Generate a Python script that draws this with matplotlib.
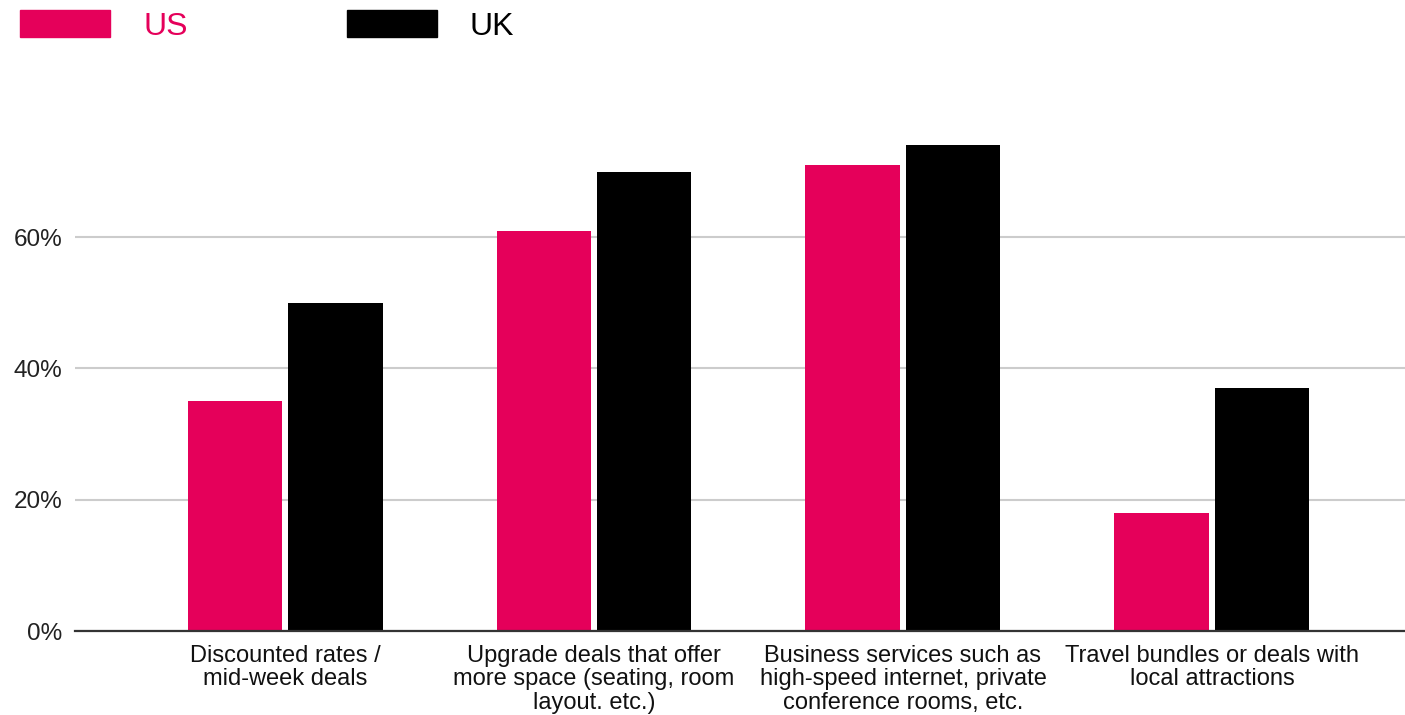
import numpy as np
import matplotlib.pyplot as plt
from matplotlib.patches import Rectangle

categories = [
    "Discounted rates /\nmid-week deals",
    "Upgrade deals that offer\nmore space (seating, room\nlayout. etc.)",
    "Business services such as\nhigh-speed internet, private\nconference rooms, etc.",
    "Travel bundles or deals with\nlocal attractions",
]
us_values = [0.35, 0.61, 0.71, 0.18]
uk_values = [0.50, 0.70, 0.74, 0.37]
y_ticks = [0.0, 0.2, 0.4, 0.6]
y_tick_labels = ["0%", "20%", "40%", "60%"]

PINK = "#E5005A"
BLACK = "#000000"

plt.rcParams["font.family"] = ["Liberation Sans", "DejaVu Sans"]

fig = plt.figure(figsize=(14.05, 7.15), dpi=100)
ax = fig.add_axes([75 / 1405, 84 / 715, 1 - 75 / 1405, (631 - 119) / 715])

x = np.arange(len(categories))
width = 0.307
offset = 0.162
ax.bar(x - offset, us_values, width, color=PINK, zorder=3)
ax.bar(x + offset, uk_values, width, color=BLACK, zorder=3)

ax.set_xlim(-0.68, 3.625)
ax.set_ylim(0, 0.78)
ax.set_yticks(y_ticks)
ax.set_yticklabels(y_tick_labels, fontsize=17.5, color="#222222")
ax.set_xticks(x)
ax.set_xticklabels(categories, fontsize=17, color="#111111", linespacing=1.08)
ax.tick_params(axis="both", length=0)
ax.tick_params(axis="y", pad=9)
ax.tick_params(axis="x", pad=10)

ax.grid(axis="y", color="#cccccc", linewidth=1.5, zorder=0)
for side in ["top", "right", "left"]:
    ax.spines[side].set_visible(False)
ax.spines["bottom"].set_color("#333333")
ax.spines["bottom"].set_linewidth(1.6)
ax.spines["bottom"].set_zorder(4)

# legend drawn at the top left, like the source chart
W, H = 1405, 715
fig.patches.append(Rectangle((20 / W, 1 - 37 / H), 90 / W, 27 / H,
                             transform=fig.transFigure, color=PINK))
fig.text(143 / W, 1 - 27 / H, "US", color=PINK, fontsize=23, va="center")
fig.patches.append(Rectangle((347 / W, 1 - 37 / H), 90 / W, 27 / H,
                             transform=fig.transFigure, color=BLACK))
fig.text(469 / W, 1 - 27 / H, "UK", color=BLACK, fontsize=23, va="center")

fig.savefig("out.png", dpi=100)
